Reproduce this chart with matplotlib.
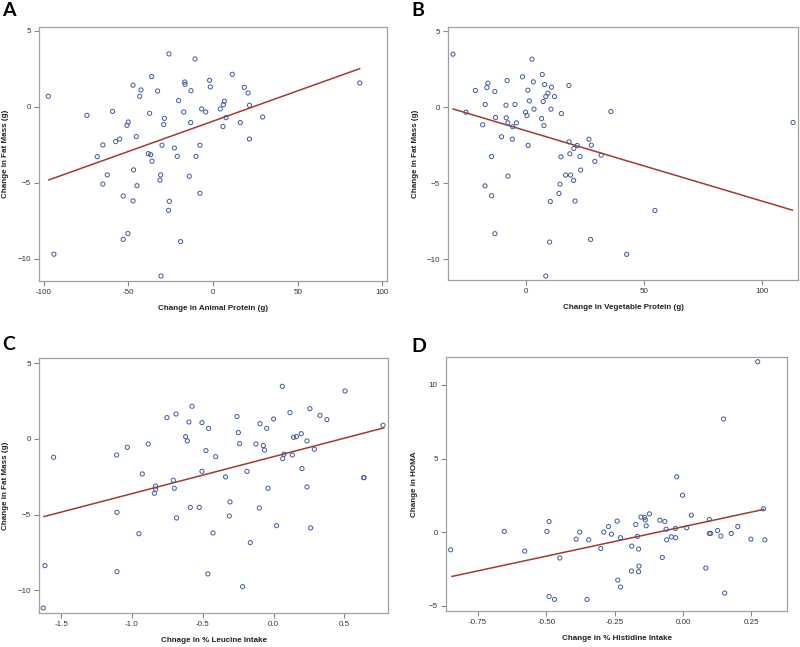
import matplotlib
matplotlib.use("Agg")
import matplotlib.pyplot as plt
from matplotlib.ticker import FormatStrFormatter

# ---- data ----
# A: animal protein vs fat mass
a_x = [-97.2, -93.9, -74.4, -59.3, -68.3, -65.0, -62.4, -65.0, -57.5, -55.1,
       -53.0, -53.0, -50.2, -50.8, -50.0, -47.2, -46.9, -47.2, -44.9, -45.3,
       -43.3, -42.5, -37.4, -36.2, -32.7, -38.2, -36.8, -36.0, -29.1, -28.7,
       -30.1, -30.9, -31.3, -26.0, -25.8, -26.2, -30.7, -22.8, -21.1, -20.3,
       -17.3, -16.7, -16.5, -19.1, -13.0, -13.2, -10.6, -14.0, -10.0, -7.7,
       -7.7, -6.7, -4.3, -2.0, -1.6, 4.3, 6.1, 6.7, 7.7, 5.9,
       11.4, 16.1, 18.5, 20.7, 21.5, 21.5, 29.3, 86.6]
a_y = [0.70, -9.69, -0.55, -0.29, -3.27, -2.50, -4.47, -5.07, -2.28, -2.11,
       -5.86, -8.71, -8.33, -1.21, -0.99, 1.43, -4.14, -6.18, -5.18, -1.95,
       0.70, 1.12, -0.42, 2.00, 1.05, -3.07, -3.14, -3.57, -1.16, -0.75,
       -2.52, -4.47, -4.82, 3.49, -6.21, -6.80, -11.12, -2.70, -3.25, 0.42,
       -0.33, 1.64, 1.49, -8.86, 1.07, -1.03, 3.16, -4.56, -3.25, -2.52,
       -5.68, -0.13, -0.33, 1.75, 1.32, -0.13, 0.15, 0.37, -0.70, -1.29,
       2.15, -1.03, 1.29, 0.92, 0.11, -2.11, -0.66, 1.58]
a_fit_x = [-96.9, 86.6]
a_fit_y = [-4.80, 2.52]

# B: vegetable protein vs fat mass
b_x = [-31.1, -25.6, -21.6, -18.5, -17.4, -16.7, -16.3, -14.7, -17.5, -14.7,
       -13.3, -13.3, -13.0, -10.5, -8.6, -8.5, -8.1, -7.8, -7.8, -5.9,
       -5.7, -4.8, -4.2, -1.6, -0.3, 0.3, 0.7, 0.8, 1.3, 2.4,
       3.0, 3.3, 6.5, 6.8, 7.2, 7.5, 7.8, 8.3, 9.2, 10.7,
       10.5, 12.0, 10.2, 9.9, 8.3, 13.9, 14.3, 14.7, 14.9, 16.7,
       18.1, 18.2, 18.5, 18.8, 20.1, 20.2, 20.7, 21.6, 22.8, 23.1,
       26.6, 27.6, 27.3, 29.1, 31.8, 35.9, 42.6, 54.6, 113.2]
b_y = [3.49, -0.33, 1.10, -1.16, 0.18, 1.29, 1.58, -3.25, -5.18, -5.83,
       -8.33, 1.03, -0.68, -1.95, 0.13, -0.70, 1.75, -1.03, -4.54, -2.11,
       -1.29, 0.18, -1.03, 2.00, -0.33, -0.55, 1.12, -2.52, 0.42, 3.16,
       1.67, -0.13, -0.75, 2.15, 0.37, -1.21, 1.49, 0.70, 0.92, 1.32,
       -0.13, 0.70, -6.21, -8.88, -11.12, -5.68, -5.07, -3.27, -0.42, -4.47,
       1.43, -2.28, -3.07, -4.47, -4.82, -2.72, -6.18, -2.52, -3.25, -4.14,
       -2.11, -2.50, -8.71, -3.57, -3.16, -0.29, -9.69, -6.80, -1.01]
b_fit_x = [-31.0, 112.9]
b_fit_y = [-0.12, -6.78]

# C: % leucine intake vs fat mass
c_x = [-1.553, -1.614, -1.626, -1.108, -1.106, -1.106, -1.033, -0.951, -0.927, -0.885,
       -0.842, -0.833, -0.833, -0.753, -0.708, -0.701, -0.689, -0.685, -0.621, -0.609,
       -0.598, -0.588, -0.576, -0.525, -0.506, -0.506, -0.478, -0.459, -0.464, -0.428,
       -0.409, -0.339, -0.313, -0.308, -0.259, -0.249, -0.240, -0.219, -0.188, -0.165,
       -0.125, -0.101, -0.096, -0.073, -0.064, -0.049, -0.040, 0.000, 0.021, 0.061,
       0.064, 0.073, 0.115, 0.132, 0.141, 0.160, 0.195, 0.200, 0.235, 0.235,
       0.256, 0.261, 0.287, 0.327, 0.376, 0.504, 0.635, 0.638, 0.772]
c_y = [-1.21, -8.37, -11.17, -1.06, -4.85, -8.77, -0.55, -6.26, -2.31, -0.33,
       -3.59, -3.11, -3.33, 1.41, -2.73, -3.26, 1.65, -5.22, 0.15, -0.13,
       1.12, -4.52, 2.16, -4.52, 1.08, -2.14, -0.77, 0.70, -8.92, -6.21,
       -1.17, -2.51, -5.09, -4.16, 1.48, 0.42, -0.31, -9.76, -2.14, -6.85,
       -0.33, -4.56, 1.01, -0.44, -0.73, 0.70, -3.26, 1.32, -5.73, 3.48,
       -1.30, -1.01, 1.74, -1.06, 0.11, 0.15, 0.35, -1.96, -0.13, -3.17,
       2.00, -5.88, -0.68, 1.56, 1.28, 3.17, -2.56, -2.55, 0.90]
c_fit_x = [-1.621, 0.776]
c_fit_y = [-5.13, 0.73]

# D: % histidine intake vs HOMA
d_x = [-0.850, -0.654, -0.579, -0.498, -0.490, -0.490, -0.470, -0.451, -0.391, -0.378,
       -0.351, -0.345, -0.301, -0.290, -0.273, -0.262, -0.241, -0.239, -0.229, -0.229,
       -0.188, -0.189, -0.173, -0.167, -0.163, -0.161, -0.163, -0.154, -0.141, -0.138,
       -0.135, -0.123, -0.085, -0.076, -0.067, -0.062, -0.060, -0.043, -0.028, -0.027,
       -0.023, -0.002, 0.013, 0.030, 0.083, 0.096, 0.096, 0.101, 0.126, 0.138,
       0.148, 0.152, 0.176, 0.200, 0.248, 0.273, 0.294, 0.299]
d_y = [-1.20, 0.05, -1.29, 0.05, 0.72, -4.37, -4.57, -1.76, -0.48, 0.00,
       -4.57, -0.52, -1.11, 0.00, 0.38, -0.14, 0.75, -3.26, -0.38, -3.73,
       -0.95, -2.65, 0.52, -0.29, -1.15, -2.31, -2.69, 1.02, 1.00, 0.84,
       0.43, 1.24, 0.81, -1.72, 0.72, 0.20, -0.52, -0.32, 0.25, -0.38,
       3.76, 2.51, 0.29, 1.15, -2.44, 0.86, -0.09, -0.09, 0.11, -0.27,
       7.69, -4.14, -0.09, 0.38, -0.48, 11.58, 1.58, -0.52]
d_fit_x = [-0.845, 0.294]
d_fit_y = [-3.01, 1.54]

panels = [
    dict(letter="A", x=a_x, y=a_y, fx=a_fit_x, fy=a_fit_y,
         box=(39, 27, 387, 281), letter_xy=(2, 11), ylab_x=5.5,
         xlim=(-102.7, 102.7), ylim=(-11.45, 5.26),
         xticks=[-100, -50, 0, 50, 100], yticks=[-10, -5, 0, 5], xfmt="%d",
         xlabel="Change in Animal Protein (g)", ylabel="Change in Fat Mass (g)"),
    dict(letter="B", x=b_x, y=b_y, fx=b_fit_x, fy=b_fit_y,
         box=(448, 27, 798, 280), letter_xy=(411, 11), ylab_x=415,
         xlim=(-33.2, 115.3), ylim=(-11.38, 5.28),
         xticks=[0, 50, 100], yticks=[-10, -5, 0, 5], xfmt="%d",
         xlabel="Change in Vegetable Protein (g)", ylabel="Change in Fat Mass (g)"),
    dict(letter="C", x=c_x, y=c_y, fx=c_fit_x, fy=c_fit_y,
         box=(39, 358, 388, 613), letter_xy=(2, 345), ylab_x=5.5,
         xlim=(-1.656, 0.807), ylim=(-11.5, 5.35),
         xticks=[-1.5, -1.0, -0.5, 0.0, 0.5], yticks=[-10, -5, 0, 5], xfmt="%.1f",
         xlabel="Chnage in % Leucine Intake", ylabel="Change in Fat Mass (g)"),
    dict(letter="D", x=d_x, y=d_y, fx=d_fit_x, fy=d_fit_y,
         box=(446, 357, 787, 611), letter_xy=(411, 346), ylab_x=415,
         xlim=(-0.867, 0.380), ylim=(-5.36, 11.9),
         xticks=[-0.75, -0.50, -0.25, 0.00, 0.25], yticks=[-5, 0, 5, 10], xfmt="%.2f",
         xlabel="Change in % Histidine Intake", ylabel="Change in HOMA"),
]

W, H = 800, 647
fig = plt.figure(figsize=(W / 100, H / 100), dpi=100)
fig.patch.set_facecolor("white")

for p in panels:
    l, t, r, b = p["box"]
    ax = fig.add_axes([l / W, 1 - b / H, (r - l) / W, (b - t) / H])
    ax.plot(p["fx"], p["fy"], color="#A23A2E", lw=1.1, zorder=2)
    ax.scatter(p["x"], p["y"], s=9, facecolors="none", edgecolors="#3F5A9C",
               linewidths=0.7, zorder=3)
    ax.set_xlim(p["xlim"])
    ax.set_ylim(p["ylim"])
    ax.set_xticks(p["xticks"])
    ax.set_yticks(p["yticks"])
    ax.xaxis.set_major_formatter(FormatStrFormatter(p["xfmt"]))
    ax.tick_params(length=3.5, width=0.8, color="#888888", labelsize=5.8,
                   labelcolor="#333333", pad=2.5)
    for lab in ax.get_xticklabels() + ax.get_yticklabels():
        lab.set_fontfamily("Liberation Sans")
    for s in ax.spines.values():
        s.set_color("#A0A0A0")
        s.set_linewidth(0.9)
    ax.set_xlabel(p["xlabel"], fontsize=5.8, fontweight="bold", family="Liberation Sans",
                  color="#222222", va="center")
    ax.set_ylabel(p["ylabel"], fontsize=5.8, fontweight="bold", family="Liberation Sans",
                  color="#222222", va="center")
    # label positions from pixel measurements
    ax.xaxis.set_label_coords(0.5, -28 / (b - t))
    ax.yaxis.set_label_coords((p["ylab_x"] - l) / (r - l), 0.5)
    lx, ly = p["letter_xy"]
    fig.text(lx / W, 1 - ly / H, p["letter"],
             fontsize=14, fontweight="bold", family=["Lato", "DejaVu Sans"],
             ha="left", va="center")

fig.savefig("out.png", dpi=100)
